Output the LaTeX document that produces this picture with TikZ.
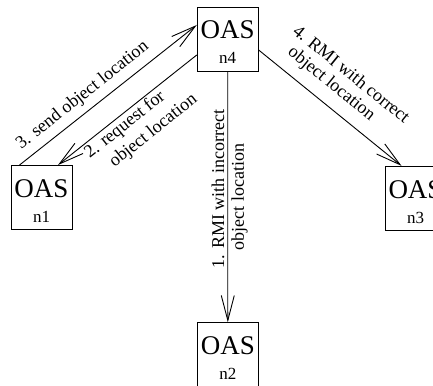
\documentclass[tikz,border=0pt]{standalone}
\usepackage{fontspec}
\setmainfont{Liberation Serif}
\usetikzlibrary{arrows.meta,calc}
\begin{document}
\begin{tikzpicture}[x=1pt,y=-1pt,
  oasbox/.style={draw, line width=0.9pt, minimum width=61pt, minimum height=64pt, inner sep=0pt},
  oastext/.style={anchor=base, inner sep=0pt, font=\fontsize{27}{27}\selectfont},
  idtext/.style={anchor=base, inner sep=0pt, font=\fontsize{17}{17}\selectfont},
  msg/.style={anchor=base, inner sep=0pt, font=\fontsize{18}{18}\selectfont},
  link/.style={line width=0.9pt, -{Straight Barb[length=25pt,width=13pt]}}]
\useasboundingbox (0,0) rectangle (433,385);

% object address servers
\node[oasbox] (n4) at (227.7,39) {};
\node[oastext] (n4name) at (n4.center) {OAS};
\node[idtext] (n4id) at ([yshift=-25pt]n4.center) {n4};

\node[oasbox] (n1) at (41.5,197.5) {};
\node[oastext] (n1name) at (n1.center) {OAS};
\node[idtext] (n1id) at ([yshift=-25pt]n1.center) {n1};

\node[oasbox] (n3) at (415.5,198.3) {};
\node[oastext] (n3name) at (n3.center) {OAS};
\node[idtext] (n3id) at ([yshift=-25pt]n3.center) {n3};

\node[oasbox] (n2) at (227.8,354.7) {};
\node[oastext] (n2name) at (n2.center) {OAS};
\node[idtext] (n2id) at ([yshift=-25pt]n2.center) {n2};

% attachment points on the box borders
\coordinate (n1a) at ([xshift=-22pt]n1.north);
\coordinate (n1b) at ([xshift=16.5pt]n1.north);
\coordinate (n4a) at ([yshift=14pt]n4.west);
\coordinate (n4b) at ([yshift=-16pt]n4.west);
\coordinate (n4c) at ([yshift=-11pt]n4.east);
\coordinate (n3a) at ([xshift=-14pt]n3.north);

% messages
\draw[link] (n4.south) -- (n2.north);
\draw[link] (n4b) -- (n1b);
\draw[link] (n1a) -- (n4a);
\draw[link] (n4c) -- (n3a);

% 1: vertical message, one line on each side
\coordinate (m1a) at ($(n4.south)!0.469!(n2.north)$);
\coordinate (m1b) at ($(n4.south)!0.500!(n2.north)$);
\node[msg, rotate=90] (l1a) at ($(m1a)!3.7pt!-90:(n2.north)$) {1. RMI with incorrect};
\node[msg, rotate=90] (l1b) at ($(m1b)!16pt!90:(n2.north)$) {object location};

% 2: below the request arrow
\coordinate (m2a) at ($(n1b)!0.437!(n4b)$);
\coordinate (m2b) at ($(n1b)!0.542!(n4b)$);
\node[msg, rotate=38.44] (l2a) at ($(m2a)!15pt!-90:(n4b)$) {2. request for};
\node[msg, rotate=38.44] (l2b) at ($(m2b)!37pt!-90:(n4b)$) {object location};

% 3: above the reply arrow
\coordinate (m3) at ($(n1a)!0.41!(n4a)$);
\node[msg, rotate=38.54] (l3) at ($(m3)!11pt!90:(n4a)$) {3. send object location};

% 4: above the forwarded call
\coordinate (m4a) at ($(n4c)!0.475!(n3a)$);
\coordinate (m4b) at ($(n4c)!0.4225!(n3a)$);
\node[msg, rotate=-39.06] (l4a) at ($(m4a)!34pt!90:(n3a)$) {4. RMI with correct};
\node[msg, rotate=-39.06] (l4b) at ($(m4b)!15pt!90:(n3a)$) {object location};
\end{tikzpicture}
\end{document}
